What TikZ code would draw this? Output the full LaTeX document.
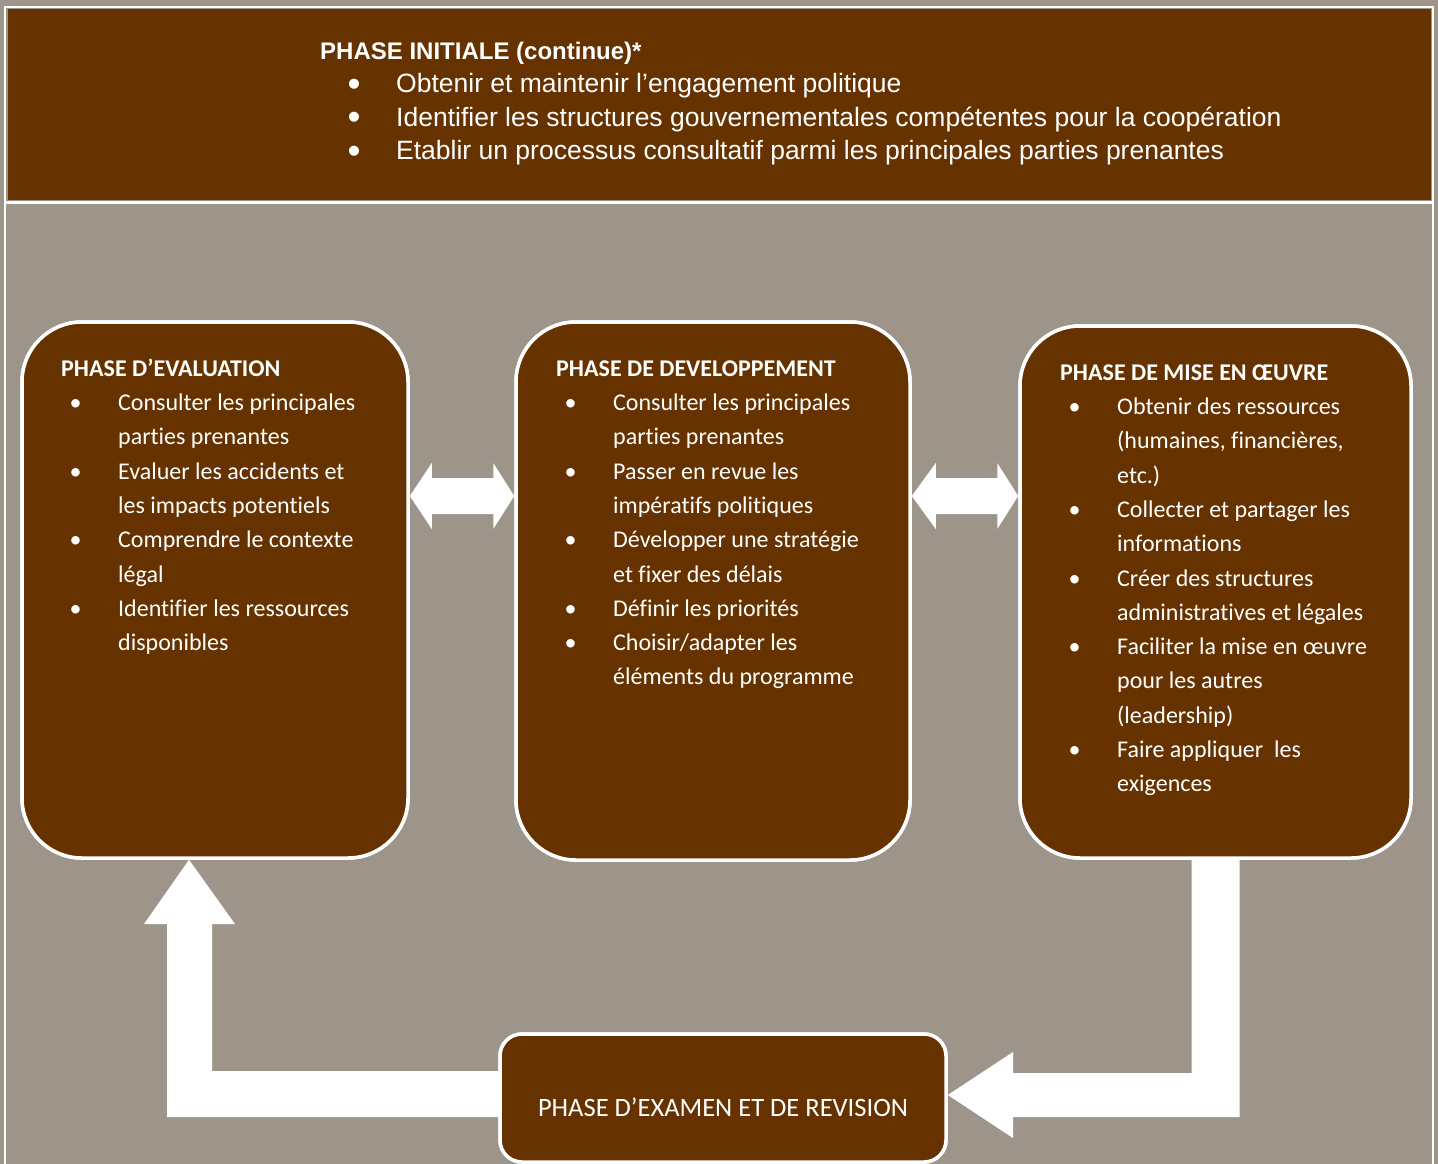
\documentclass[tikz,border=0pt]{standalone}
\usepackage{fontspec}
\setmainfont{Carlito}[Ligatures={CommonOff,RareOff},Contextuals=AlternateOff]
\newfontfamily\arialf{Liberation Sans}
\usetikzlibrary{calc}
\definecolor{brn}{RGB}{102,51,0}
\definecolor{gry}{RGB}{157,149,138}
\newcommand\bitem[1]{\makebox[57pt][l]{\hspace{8.5pt}\textbullet}#1}
\newcommand\cont[1]{\hspace*{57pt}#1}
\newcommand\titem[1]{\makebox[76pt][l]{\hspace{27.5pt}\raisebox{-3.6pt}{\fontsize{37}{37}\selectfont\textbullet}}#1}
\tikzset{
  phasebox/.style={draw=white, line width=3.5pt, fill=brn, rounded corners=60pt, inner sep=0pt},
  boxtext/.style={anchor=north west, align=left, inner sep=0pt, text=white, font=\fontsize{24}{34.3}\selectfont},
  bigarrow/.style={fill=white}
}
\begin{document}
\begin{tikzpicture}[x=1pt,y=-1pt]
\fill[gry] (0,0) rectangle (1438,1164);
\useasboundingbox (0,0) rectangle (1438,1164);
% frame
\draw[white,line width=2.5pt] (5,1164) -- (5,7) -- (1433,7) -- (1433,1164);
\fill[brn] (8,9) rectangle (1431,200);
\draw[white,line width=3pt] (5,202) -- (1433,202);
% top text
\node[anchor=north west, inner sep=0pt, text=white, font=\arialf\bfseries\fontsize{24}{30}\selectfont] (ttl) at (320,42) {\rule{0pt}{17.5pt}PHASE INITIALE (continue)*};
\node[anchor=north west, align=left, inner sep=0pt, text=white, font=\arialf\fontsize{26.5}{33.5}\selectfont] (tlist) at (320,73) {\rule{0pt}{19.5pt}\titem{Obtenir et maintenir l’engagement politique}\\
\titem{Identifier les structures gouvernementales compétentes pour la coopération}\\
\titem{Etablir un processus consultatif parmi les principales parties prenantes}};
% phase boxes (positions)
\node[phasebox, minimum width=386pt, minimum height=536pt] (ev) at (215,590) {};
\node[phasebox, minimum width=394pt, minimum height=538pt] (dv) at (713,591) {};
\node[phasebox, minimum width=391pt, minimum height=532pt] (mi) at (1215.5,592) {};
\node[phasebox, rounded corners=22pt, minimum width=446pt, minimum height=128pt] (ex) at (723,1098) {};
% double arrow ev <-> dv
\fill[bigarrow] (ev.east |- 0,496) -- ++(22,-33) -- ++(0,15)
  -- ($(dv.west |- 0,478)+(-21,0)$) -- ++(0,-15) -- (dv.west |- 0,496)
  -- ++(-21,33) -- ++(0,-15) -- ($(ev.east |- 0,514)+(22,0)$) -- ++(0,15) -- cycle;
% double arrow dv <-> mi
\fill[bigarrow] (dv.east |- 0,496) -- ++(24,-33) -- ++(0,15)
  -- ($(mi.west |- 0,478)+(-21,0)$) -- ++(0,-15) -- (mi.west |- 0,496)
  -- ++(-21,33) -- ++(0,-15) -- ($(dv.east |- 0,514)+(24,0)$) -- ++(0,15) -- cycle;
% mi -> ex
\coordinate (r1) at ($(mi.south)+(-24,-4)$);
\coordinate (r2) at ($(mi.south)+(24,-4)$);
\fill[bigarrow] (r1) -- (r1 |- 0,1073) -- (1013,1073) -- (1013,1052) -- (ex.east |- 0,1095)
  -- (1013,1138) -- (1013,1117) -- (r2 |- 0,1117) -- (r2) -- cycle;
% ex -> ev
\coordinate (lt) at ($(ev.south)+(-26,0)$);
\fill[bigarrow] (lt) -- (235,924) -- (212,924) -- (212,1071) -- ($(ex.west |- 0,1071)+(6,0)$)
  -- ($(ex.west |- 0,1117)+(6,0)$) -- (167,1117) -- (167,924) -- (144,924) -- cycle;
% redraw boxes on top
\node[phasebox, minimum width=386pt, minimum height=536pt] at (ev) {};
\node[phasebox, minimum width=394pt, minimum height=538pt] at (dv) {};
\node[phasebox, minimum width=391pt, minimum height=532pt] at (mi) {};
\node[phasebox, rounded corners=22pt, minimum width=446pt, minimum height=128pt] at (ex) {};
% box texts
\node[boxtext] (evt) at (61,356) {\rule{0pt}{20pt}\textbf{PHASE D’EVALUATION}\\
\bitem{Consulter les principales}\\
\cont{parties prenantes}\\
\bitem{Evaluer les accidents et}\\
\cont{les impacts potentiels}\\
\bitem{Comprendre le contexte}\\
\cont{légal}\\
\bitem{Identifier les ressources}\\
\cont{disponibles}};
\node[boxtext] (dvt) at (556,356) {\rule{0pt}{20pt}\textbf{PHASE DE DEVELOPPEMENT}\\
\bitem{Consulter les principales}\\
\cont{parties prenantes}\\
\bitem{Passer en revue les}\\
\cont{impératifs politiques}\\
\bitem{Développer une stratégie}\\
\cont{et fixer des délais}\\
\bitem{Définir les priorités}\\
\bitem{Choisir/adapter les}\\
\cont{éléments du programme}};
\node[boxtext] (mit) at (1060,360) {\rule{0pt}{20pt}\textbf{PHASE DE MISE EN ŒUVRE}\\
\bitem{Obtenir des ressources}\\
\cont{(humaines, financières,}\\
\cont{etc.)}\\
\bitem{Collecter et partager les}\\
\cont{informations}\\
\bitem{Créer des structures}\\
\cont{administratives et légales}\\
\bitem{Faciliter la mise en œuvre}\\
\cont{pour les autres}\\
\cont{(leadership)}\\
\bitem{Faire appliquer\ \ les}\\
\cont{exigences}};
\node[text=white, inner sep=0pt, font=\fontsize{26.5}{30}\selectfont] (ext) at ($(ex.center)+(0,9)$) {PHASE D’EXAMEN ET DE REVISION};
\end{tikzpicture}
\end{document}
